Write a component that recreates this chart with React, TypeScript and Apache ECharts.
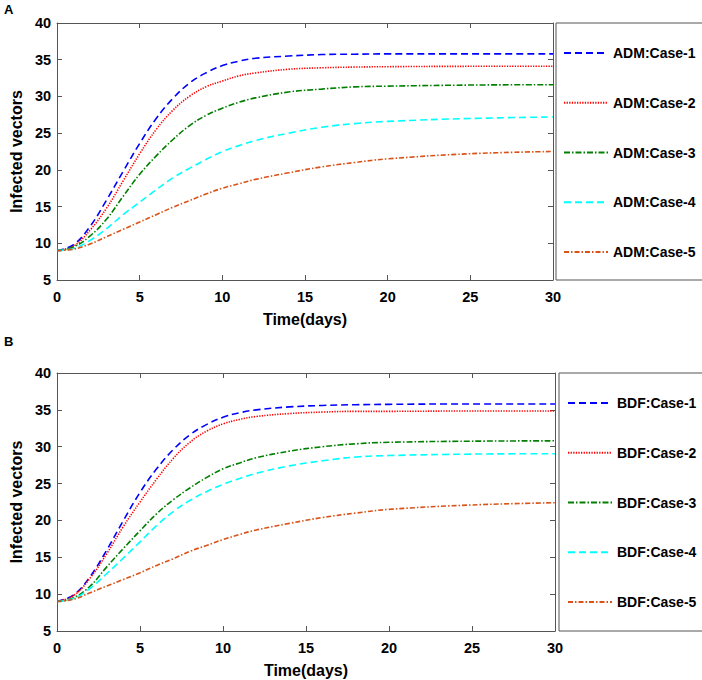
import React, { useEffect, useRef } from "react";
import * as echarts from "echarts";

// time points (days)
const T = [0, 1, 2, 3, 4, 5, 6, 7, 8, 9, 10, 11, 12, 14, 16, 18, 20, 25, 30];

// Panel A (ADM)
const admCase1 = [9, 9.8, 12.3, 15.9, 19.8, 23.6, 27.0, 29.7, 31.8, 33.2, 34.2, 34.8, 35.2, 35.5, 35.7, 35.75, 35.8, 35.8, 35.8];
const admCase2 = [9, 9.6, 11.8, 14.8, 18.5, 22.2, 25.5, 28.1, 30.0, 31.3, 32.1, 32.8, 33.2, 33.7, 33.9, 34.0, 34.05, 34.1, 34.1];
const admCase3 = [9, 9.5, 11.0, 13.3, 16.4, 19.4, 21.9, 24.1, 26.0, 27.4, 28.4, 29.2, 29.8, 30.6, 31.0, 31.3, 31.4, 31.55, 31.6];
const admCase4 = [9, 9.3, 10.4, 12.0, 13.9, 15.6, 17.3, 18.9, 20.2, 21.4, 22.5, 23.3, 24.0, 25.0, 25.8, 26.3, 26.6, 27.0, 27.2];
const admCase5 = [9, 9.2, 9.9, 10.9, 11.9, 12.9, 13.9, 14.9, 15.8, 16.7, 17.5, 18.1, 18.7, 19.6, 20.4, 21.0, 21.5, 22.2, 22.5];

// Panel B (BDF)
const bdfCase1 = [9, 9.9, 12.4, 16.0, 20.0, 23.8, 27.0, 29.6, 31.6, 33.0, 34.0, 34.6, 35.0, 35.4, 35.6, 35.7, 35.75, 35.8, 35.8];
const bdfCase2 = [9, 9.8, 12.2, 15.5, 19.2, 22.5, 25.6, 28.4, 30.6, 32.1, 33.1, 33.7, 34.1, 34.5, 34.7, 34.8, 34.8, 34.85, 34.85];
const bdfCase3 = [9, 9.5, 11.1, 13.7, 16.2, 18.6, 20.9, 22.8, 24.4, 25.8, 27.0, 27.8, 28.5, 29.4, 30.0, 30.4, 30.6, 30.75, 30.8];
const bdfCase4 = [9, 9.4, 10.8, 12.8, 14.9, 17.1, 19.3, 21.2, 22.7, 23.9, 24.9, 25.7, 26.4, 27.4, 28.1, 28.6, 28.8, 29.0, 29.05];
const bdfCase5 = [9, 9.3, 10.2, 11.1, 12.0, 12.9, 13.9, 14.8, 15.8, 16.6, 17.4, 18.1, 18.7, 19.6, 20.4, 21.0, 21.5, 22.1, 22.4];

const admNames = ["ADM:Case-1", "ADM:Case-2", "ADM:Case-3", "ADM:Case-4", "ADM:Case-5"];
const bdfNames = ["BDF:Case-1", "BDF:Case-2", "BDF:Case-3", "BDF:Case-4", "BDF:Case-5"];
const xTicks = { min: 0, max: 30, interval: 5 };
const yTicks = { min: 5, max: 40, interval: 5 };

const FONT = "'Liberation Sans', Arial, Helvetica, sans-serif";
const AXIS_COLOR = "#555555";

const caseStyles = [
  { color: "#0000FF", dash: [7, 4] },
  { color: "#FF0000", dash: [1.3, 1.3] },
  { color: "#007F00", dash: [6, 2, 1.5, 2] },
  { color: "#00FFFF", dash: [7, 4] },
  { color: "#D95319", dash: [5, 2, 1.5, 2] },
];

function pairs(vals: number[]) {
  return T.map((t, i) => [t, vals[i]]);
}

export default function App() {
  const ref = useRef<HTMLDivElement>(null);

  useEffect(() => {
    if (!ref.current) return;
    const chart = echarts.init(ref.current, undefined, { renderer: "svg" });

    const grids = [
      { left: 46, top: 23, width: 507, height: 257 },
      { left: 46, top: 373, width: 509, height: 258 },
    ];

    const line = { show: true, onZero: false, lineStyle: { color: AXIS_COLOR, width: 1 } };
    const tick = { show: true, inside: true, length: 5, lineStyle: { color: AXIS_COLOR } };
    const label = { fontFamily: FONT, fontWeight: "bold" as const, fontSize: 14.5, color: "#000" };

    const xAxes: any[] = [];
    const yAxes: any[] = [];
    [0, 1].forEach((g) => {
      xAxes.push({
        type: "value", gridIndex: g, position: "bottom", ...xTicks,
        axisLine: line, axisTick: tick, splitLine: { show: false },
        axisLabel: { ...label, margin: 9 },
        name: "Time(days)", nameLocation: "middle", nameGap: 31,
        nameTextStyle: { fontFamily: FONT, fontWeight: "bold", fontSize: 16, color: "#000" },
      });
      xAxes.push({
        type: "value", gridIndex: g, position: "top", ...xTicks,
        axisLine: line, axisTick: tick, splitLine: { show: false },
        axisLabel: { show: false },
      });
      yAxes.push({
        type: "value", gridIndex: g, position: "left", ...yTicks,
        axisLine: line, axisTick: tick, splitLine: { show: false },
        axisLabel: { ...label, margin: 6 },
        name: "Infected vectors", nameLocation: "middle", nameGap: 26,
        nameTextStyle: { fontFamily: FONT, fontWeight: "bold", fontSize: 16, color: "#000" },
      });
      yAxes.push({
        type: "value", gridIndex: g, position: "right", ...yTicks,
        axisLine: line, axisTick: tick, splitLine: { show: false },
        axisLabel: { show: false },
      });
    });

    const mk = (name: string, vals: number[], k: number, g: number) => ({
      name,
      type: "line",
      xAxisIndex: g * 2,
      yAxisIndex: g * 2,
      data: pairs(vals),
      smooth: 0.4,
      symbol: "none",
      showSymbol: false,
      lineStyle: { color: caseStyles[k].color, width: 1.6, type: caseStyles[k].dash },
      itemStyle: { color: caseStyles[k].color },
    });

    const admVals = [admCase1, admCase2, admCase3, admCase4, admCase5];
    const bdfVals = [bdfCase1, bdfCase2, bdfCase3, bdfCase4, bdfCase5];
    const series = [
      ...admNames.map((n, k) => mk(n, admVals[k], k, 0)),
      ...bdfNames.map((n, k) => mk(n, bdfVals[k], k, 1)),
    ];

    const legendCommon = {
      orient: "vertical" as const,
      itemWidth: 44,
      itemHeight: 14,
      itemGap: 35.75,
      itemStyle: { opacity: 0 },
      textStyle: { fontFamily: FONT, fontWeight: "bold" as const, fontSize: 14, color: "#000", lineHeight: 14 },
      padding: 0,
      selectedMode: false,
    };

    chart.setOption({
      animation: false,
      grid: grids,
      xAxis: xAxes,
      yAxis: yAxes,
      series,
      legend: [
        { ...legendCommon, data: admNames, left: 563, top: 46 },
        { ...legendCommon, data: bdfNames, left: 567, top: 396 },
      ],
      graphic: [
        { type: "rect", shape: { x: 556, y: 23, width: 200, height: 257 }, style: { fill: "none", stroke: AXIS_COLOR, lineWidth: 1 }, silent: true },
        { type: "rect", shape: { x: 559, y: 373, width: 200, height: 258 }, style: { fill: "none", stroke: AXIS_COLOR, lineWidth: 1 }, silent: true },
        { type: "text", left: 4, top: 3, style: { text: "A", fontFamily: FONT, fontWeight: "bold", fontSize: 13, fill: "#000" } },
        { type: "text", left: 4, top: 335, style: { text: "B", fontFamily: FONT, fontWeight: "bold", fontSize: 13, fill: "#000" } },
      ],
    });

    return () => chart.dispose();
  }, []);

  return (
    <div
      ref={ref}
      style={{ position: "absolute", left: 0, top: 0, width: 702, height: 680, background: "#fff" }}
    />
  );
}
